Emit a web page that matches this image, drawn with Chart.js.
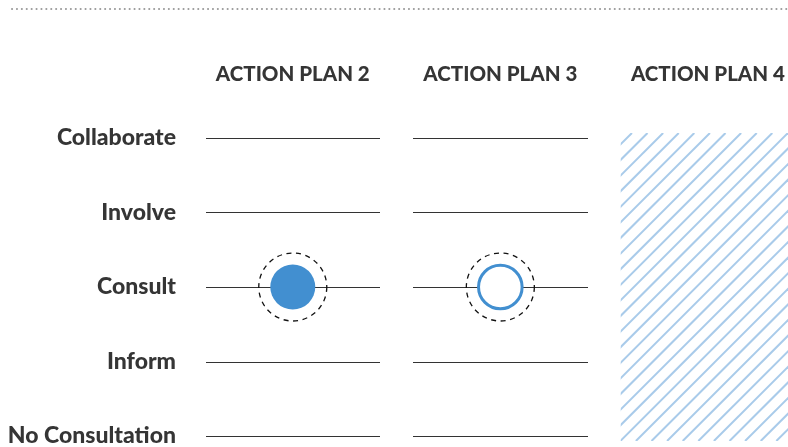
<!DOCTYPE html>
<html>
<head>
<meta charset="utf-8">
<script src="https://cdn.jsdelivr.net/npm/chart.js@4"></script>
<style>
  html, body { margin: 0; padding: 0; background: #fff; }
  #wrap { width: 788px; height: 447px; position: relative; }
</style>
</head>
<body>
<div id="wrap"><canvas id="c" width="788" height="447"></canvas></div>
<script>
// ---- data ----
const plans = ['ACTION PLAN 2', 'ACTION PLAN 3', 'ACTION PLAN 4'];
const levels = ['No Consultation', 'Inform', 'Consult', 'Involve', 'Collaborate'];
// assessed level index per plan (null = not yet assessed)
const planLevel = [2, 2, null];
// marker style per plan
const planMarker = ['filled', 'open', 'pending'];

const BLUE = '#428fd0';
const TEXT = '#353535';
const HALF = 0.42; // half width of a column's track, in x units

const filledPts = [], openPts = [];
planLevel.forEach((lv, i) => {
  if (lv === null) return;
  if (planMarker[i] === 'filled') filledPts.push({ x: i, y: lv });
  else if (planMarker[i] === 'open') openPts.push({ x: i, y: lv });
});

const noPad = s => { s.paddingTop = 0; s.paddingBottom = 0; s.paddingLeft = 0; s.paddingRight = 0; };

const tracksPlugin = {
  id: 'tracks',
  beforeDraw(chart) {
    const ctx = chart.ctx;
    ctx.save();
    ctx.strokeStyle = '#9a9a9a';
    ctx.lineWidth = 2;
    ctx.lineCap = 'round';
    ctx.setLineDash([0.1, 4.8]);
    ctx.beginPath();
    ctx.moveTo(12, 9);
    ctx.lineTo(chart.width, 9);
    ctx.stroke();
    ctx.restore();
  },
  beforeDatasetsDraw(chart) {
    const ctx = chart.ctx;
    const xs = chart.scales.x, ys = chart.scales.y;
    const area = chart.chartArea;
    ctx.save();
    // horizontal tracks for assessed plans
    ctx.strokeStyle = '#333';
    ctx.lineWidth = 1.2;
    planMarker.forEach((m, i) => {
      if (m === 'pending') return;
      const x0 = Math.round(xs.getPixelForValue(i - HALF));
      const x1 = Math.round(xs.getPixelForValue(i + HALF));
      levels.forEach((l, j) => {
        const y = Math.round(ys.getPixelForValue(j)) + 0.5;
        ctx.beginPath();
        ctx.moveTo(x0, y);
        ctx.lineTo(x1, y);
        ctx.stroke();
      });
    });
    // hatched column for pending plans
    planMarker.forEach((m, i) => {
      if (m !== 'pending') return;
      const x0 = xs.getPixelForValue(i - HALF);
      const x1 = xs.getPixelForValue(i + HALF);
      const top = area.top, bot = area.bottom;
      ctx.save();
      ctx.beginPath();
      ctx.rect(x0, top, x1 - x0, bot - top);
      ctx.clip();
      ctx.strokeStyle = '#a9cbea';
      ctx.lineWidth = 2;
      const h = bot - top;
      for (let sx = x0 - h - 20; sx < x1 + 20; sx += 15.6) {
        ctx.beginPath();
        ctx.moveTo(sx, bot);
        ctx.lineTo(sx + h, top);
        ctx.stroke();
      }
      ctx.restore();
    });
    // dashed rings around assessed markers
    ctx.strokeStyle = '#111';
    ctx.lineWidth = 1.3;
    ctx.setLineDash([5, 4.6]);
    chart.data.datasets.forEach((ds, di) => {
      const meta = chart.getDatasetMeta(di);
      meta.data.forEach(pt => {
        ctx.beginPath();
        ctx.arc(pt.x, pt.y, 34, 0, Math.PI * 2);
        ctx.stroke();
      });
    });
    ctx.restore();
  }
};

new Chart(document.getElementById('c'), {
  type: 'scatter',
  data: {
    datasets: [
      { data: filledPts, pointRadius: 22.5, pointHoverRadius: 22.5, backgroundColor: BLUE, borderWidth: 0, pointBorderWidth: 0 },
      { data: openPts, pointRadius: 21.8, pointHoverRadius: 21.8, backgroundColor: '#fff', borderColor: BLUE, pointBorderWidth: 3, borderWidth: 3 }
    ]
  },
  options: {
    responsive: false,
    animation: false,
    events: [],
    layout: { autoPadding: false, padding: { top: 0, bottom: 6, left: 0, right: 0 } },
    plugins: { legend: { display: false }, tooltip: { enabled: false } },
    scales: {
      x: {
        type: 'linear',
        position: 'top',
        min: -0.5,
        max: 2.386,
        grid: { display: false, drawTicks: false },
        border: { display: false },
        afterBuildTicks: s => { s.ticks = plans.map((p, i) => ({ value: i })); },
        afterFit: s => { s.height = 133; noPad(s); },
        ticks: {
          padding: 46,
          maxRotation: 0,
          minRotation: 0,
          autoSkip: false,
          color: TEXT,
          font: { family: 'Lato', size: 20.5, weight: 900 },
          callback: v => plans[v] || ''
        }
      },
      y: {
        type: 'linear',
        min: -0.067,
        max: 4.067,
        grid: { display: false, drawTicks: false },
        border: { display: false },
        afterBuildTicks: s => { s.ticks = levels.map((l, i) => ({ value: i })); },
        afterFit: s => { s.width = 189; noPad(s); },
        ticks: {
          padding: 13,
          autoSkip: false,
          color: TEXT,
          font: { family: 'Lato', size: 23, weight: 900 },
          callback: v => levels[v] || ''
        }
      }
    }
  },
  plugins: [tracksPlugin]
});
</script>
</body>
</html>
